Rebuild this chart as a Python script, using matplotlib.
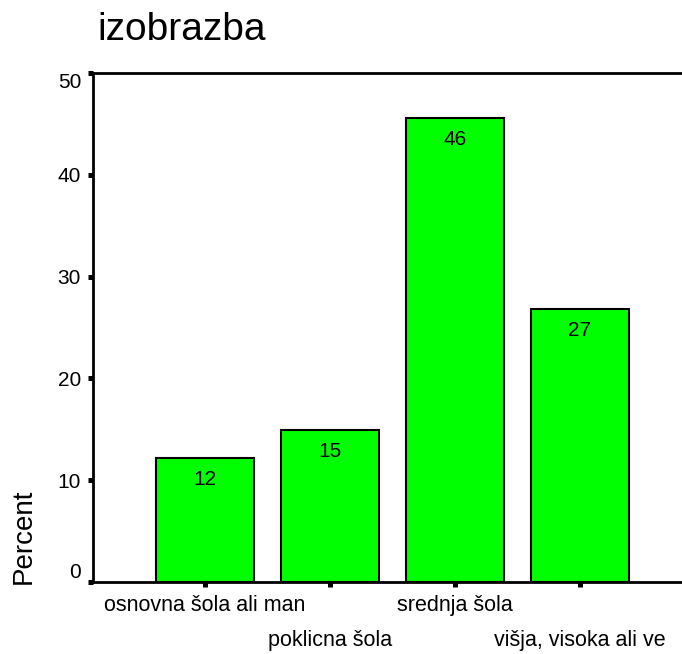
import matplotlib
matplotlib.use("Agg")
import matplotlib.pyplot as plt
import numpy as np

plt.rcParams["font.family"] = ["Liberation Sans", "DejaVu Sans"]

# data
categories = ["osnovna šola ali man", "poklicna šola", "srednja šola", "višja, visoka ali ve"]
percent = [12.2, 14.9, 45.6, 26.8]
bar_labels = ["12", "15", "46", "27"]
yticks = [0, 10, 20, 30, 40, 50]

fig = plt.figure(figsize=(6.82, 6.54), dpi=100)
ax = fig.add_axes([93 / 682, 1 - 582 / 654, 1 - 93 / 682, (582 - 73) / 654])

x = np.arange(len(categories))
ax.bar(x, percent, width=0.78, color="#00ff00", edgecolor="black", linewidth=1.5, zorder=2)

for xi, v, lab in zip(x, percent, bar_labels):
    ax.text(xi, v - 2.1, lab, ha="center", va="center", fontsize=15)

ax.set_xlim(-0.896, 3.816)
ax.set_ylim(0, 50)
ax.set_yticks(yticks)
ax.set_yticklabels([str(t) for t in yticks], fontsize=15)
# SPSS keeps the end labels inside the axis range
yl = ax.get_yticklabels()
yl[0].set_va("bottom")
yl[-1].set_va("top")

# category labels on two alternating rows
ax.set_xticks(x)
ax.set_xticklabels([])
trans = ax.get_xaxis_transform()
for i, c in enumerate(categories):
    row_y = -0.047 if i % 2 == 0 else -0.114
    ax.text(x[i], row_y, c, transform=trans, ha="center", va="center", fontsize=15.5)

ax.tick_params(axis="both", direction="out", length=3.6, width=3.6, pad=5)

ax.spines["right"].set_visible(False)
for s in ["left", "top", "bottom"]:
    ax.spines[s].set_linewidth(2)

fig.text(97 / 682, 1 - 30 / 654, "izobrazba", fontsize=28, ha="left", va="center")
fig.text(24 / 682, 1 - 584 / 654, "Percent", fontsize=20, rotation=90, ha="center", va="bottom")

fig.savefig("out.png", dpi=100)
